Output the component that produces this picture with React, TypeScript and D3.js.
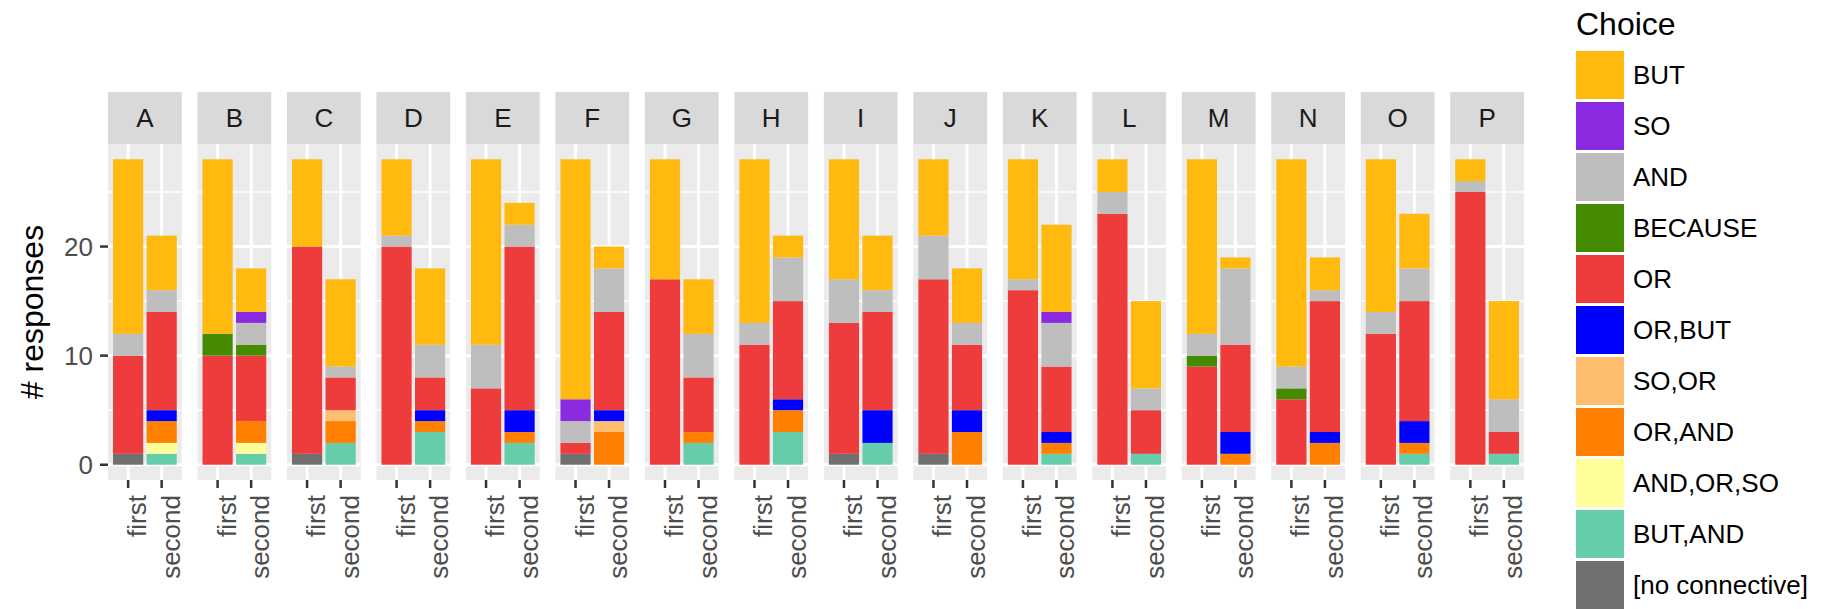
import { useEffect, useRef } from 'react';
import * as d3 from 'd3';

const facets = ['A', 'B', 'C', 'D', 'E', 'F', 'G', 'H', 'I', 'J', 'K', 'L', 'M', 'N', 'O', 'P'];
const rounds = ['first', 'second'];

// stack order, bottom to top
const choices = ['[no connective]', 'BUT,AND', 'AND,OR,SO', 'OR,AND', 'SO,OR', 'OR,BUT', 'OR', 'BECAUSE', 'AND', 'SO', 'BUT'];
const choiceColors = ['#707070', '#66CDAA', '#FFFF99', '#FF7F00', '#FDBF6F', '#0000FF', '#EE3B3B', '#458B00', '#BEBEBE', '#8A2BE2', '#FFB90F'];

// counts per facet, pairs are (first, second)
const noConnective = [1, 0, 0, 0, 1, 0, 0, 0, 0, 0, 1, 0, 0, 0, 0, 0, 1, 0, 1, 0, 0, 0, 0, 0, 0, 0, 0, 0, 0, 0, 0, 0];
const butAnd = [0, 1, 0, 1, 0, 2, 0, 3, 0, 2, 0, 0, 0, 2, 0, 3, 0, 2, 0, 0, 0, 1, 0, 1, 0, 0, 0, 0, 0, 1, 0, 1];
const andOrSo = [0, 1, 0, 1, 0, 0, 0, 0, 0, 0, 0, 0, 0, 0, 0, 0, 0, 0, 0, 0, 0, 0, 0, 0, 0, 0, 0, 0, 0, 0, 0, 0];
const orAnd = [0, 2, 0, 2, 0, 2, 0, 1, 0, 1, 0, 3, 0, 1, 0, 2, 0, 0, 0, 3, 0, 1, 0, 0, 0, 1, 0, 2, 0, 1, 0, 0];
const soOr = [0, 0, 0, 0, 0, 1, 0, 0, 0, 0, 0, 1, 0, 0, 0, 0, 0, 0, 0, 0, 0, 0, 0, 0, 0, 0, 0, 0, 0, 0, 0, 0];
const orBut = [0, 1, 0, 0, 0, 0, 0, 1, 0, 2, 0, 1, 0, 0, 0, 1, 0, 3, 0, 2, 0, 1, 0, 0, 0, 2, 0, 1, 0, 2, 0, 0];
const or = [9, 9, 10, 6, 19, 3, 20, 3, 7, 15, 1, 9, 17, 5, 11, 9, 12, 9, 16, 6, 16, 6, 23, 4, 9, 8, 6, 12, 12, 11, 25, 2];
const because = [0, 0, 2, 1, 0, 0, 0, 0, 0, 0, 0, 0, 0, 0, 0, 0, 0, 0, 0, 0, 0, 0, 0, 0, 1, 0, 1, 0, 0, 0, 0, 0];
const and = [2, 2, 0, 2, 0, 1, 1, 3, 4, 2, 2, 4, 0, 4, 2, 4, 4, 2, 4, 2, 1, 4, 2, 2, 2, 7, 2, 1, 2, 3, 1, 3];
const so = [0, 0, 0, 1, 0, 0, 0, 0, 0, 0, 2, 0, 0, 0, 0, 0, 0, 0, 0, 0, 0, 1, 0, 0, 0, 0, 0, 0, 0, 0, 0, 0];
const but = [16, 5, 16, 4, 8, 8, 7, 7, 17, 2, 22, 2, 11, 5, 15, 2, 11, 5, 7, 5, 11, 8, 3, 8, 16, 1, 19, 3, 14, 5, 2, 9];

const series = [noConnective, butAnd, andOrSo, orAnd, soOr, orBut, or, because, and, so, but];

const yTicks = [0, 10, 20];
const yMinor = [5, 15, 25];

export default function App() {
  const svgRef = useRef<SVGSVGElement>(null);

  useEffect(() => {
    if (!svgRef.current) return;
    document.body.style.margin = '0';

    const width = 1825;
    const height = 609;
    const font = '"Liberation Sans", Arial, sans-serif';

    d3.select(svgRef.current).selectAll('*').remove();
    const svg = d3
      .select(svgRef.current)
      .attr('width', width)
      .attr('height', height)
      .style('font-family', font);

    // build rows for stacking
    const rows = facets.flatMap((f, i) =>
      rounds.map((r, j) => {
        const row: any = { facet: f, round: r };
        choices.forEach((c, k) => (row[c] = series[k][i * 2 + j]));
        return row;
      })
    );
    const stacked = d3.stack().keys(choices)(rows);

    const color = d3.scaleOrdinal<string, string>().domain(choices).range(choiceColors);

    const facetX = d3.scaleBand().domain(facets).range([108, 1524]).paddingInner(0.1755);
    const bw = facetX.bandwidth();
    const innerX = d3.scaleLinear().domain([0.4, 2.6]).range([0, bw]);
    const y = d3.scaleLinear().domain([-1.4, 29.4]).range([480, 144]);
    const stripTop = 92;

    // panels
    const panels = svg
      .selectAll('g.panel')
      .data(facets)
      .enter()
      .append('g')
      .attr('class', 'panel')
      .attr('transform', (d) => `translate(${facetX(d)},0)`);

    panels.append('rect').attr('x', 0).attr('y', y(29.4)).attr('width', bw).attr('height', y(-1.4) - y(29.4)).attr('fill', '#EBEBEB');

    yMinor.forEach((t) => {
      panels.append('line').attr('x1', 0).attr('x2', bw).attr('y1', y(t)).attr('y2', y(t)).attr('stroke', '#fff').attr('stroke-width', 1.5);
    });
    yTicks.forEach((t) => {
      panels.append('line').attr('x1', 0).attr('x2', bw).attr('y1', y(t)).attr('y2', y(t)).attr('stroke', '#fff').attr('stroke-width', 3);
    });
    rounds.forEach((r, j) => {
      panels
        .append('line')
        .attr('x1', innerX(j + 1))
        .attr('x2', innerX(j + 1))
        .attr('y1', y(29.4))
        .attr('y2', y(-1.4))
        .attr('stroke', '#fff')
        .attr('stroke-width', 3);
    });

    // strips
    panels.append('rect').attr('x', 0).attr('y', stripTop).attr('width', bw).attr('height', y(29.4) - stripTop).attr('fill', '#D9D9D9');
    panels
      .append('text')
      .attr('x', bw / 2)
      .attr('y', (stripTop + y(29.4)) / 2)
      .attr('dy', '0.36em')
      .attr('text-anchor', 'middle')
      .attr('font-size', 26)
      .attr('fill', '#1A1A1A')
      .text((d) => d);

    // bars
    stacked.forEach((layer) => {
      svg
        .append('g')
        .selectAll('rect')
        .data(layer.filter((d) => d[1] - d[0] > 0))
        .enter()
        .append('rect')
        .attr('x', (d: any) => (facetX(d.data.facet) as number) + innerX(rounds.indexOf(d.data.round) + 1 - 0.45))
        .attr('width', innerX(0.9) - innerX(0))
        .attr('y', (d) => y(d[1]))
        .attr('height', (d) => y(d[0]) - y(d[1]))
        .attr('fill', color(layer.key));
    });

    // x ticks + labels
    rounds.forEach((r, j) => {
      panels
        .append('line')
        .attr('x1', innerX(j + 1))
        .attr('x2', innerX(j + 1))
        .attr('y1', 480)
        .attr('y2', 488)
        .attr('stroke', '#333')
        .attr('stroke-width', 2.5);
      panels
        .append('text')
        .attr('transform', `translate(${innerX(j + 1) + 18},495) rotate(-90)`)
        .attr('text-anchor', 'end')
        .attr('font-size', 26)
        .attr('fill', '#4D4D4D')
        .text(r);
    });

    // y axis
    const yAxis = svg.append('g');
    yTicks.forEach((t) => {
      yAxis.append('line').attr('x1', 100).attr('x2', 108).attr('y1', y(t)).attr('y2', y(t)).attr('stroke', '#333').attr('stroke-width', 2.5);
      yAxis
        .append('text')
        .attr('x', 93)
        .attr('y', y(t))
        .attr('dy', '0.36em')
        .attr('text-anchor', 'end')
        .attr('font-size', 26)
        .attr('fill', '#4D4D4D')
        .text(t);
    });
    svg
      .append('text')
      .attr('transform', `translate(43,${(y(29.4) + y(-1.4)) / 2}) rotate(-90)`)
      .attr('text-anchor', 'middle')
      .attr('font-size', 32)
      .attr('fill', '#000')
      .text('# responses');

    // legend
    const legend = svg.append('g').attr('transform', 'translate(1576,0)');
    legend.append('text').attr('x', 0).attr('y', 35).attr('font-size', 32).attr('fill', '#000').text('Choice');
    const legendOrder = choices.slice().reverse();
    const items = legend
      .selectAll('g.item')
      .data(legendOrder)
      .enter()
      .append('g')
      .attr('class', 'item')
      .attr('transform', (d, i) => `translate(0,${50 + i * 51})`);
    items.append('rect').attr('x', 0).attr('y', 1).attr('width', 48).attr('height', 48).attr('fill', (d) => color(d));
    items
      .append('text')
      .attr('x', 57)
      .attr('y', 25)
      .attr('dy', '0.36em')
      .attr('font-size', 26)
      .attr('fill', '#000')
      .text((d) => d);
  }, []);

  return <svg ref={svgRef} style={{ display: 'block' }} />;
}
